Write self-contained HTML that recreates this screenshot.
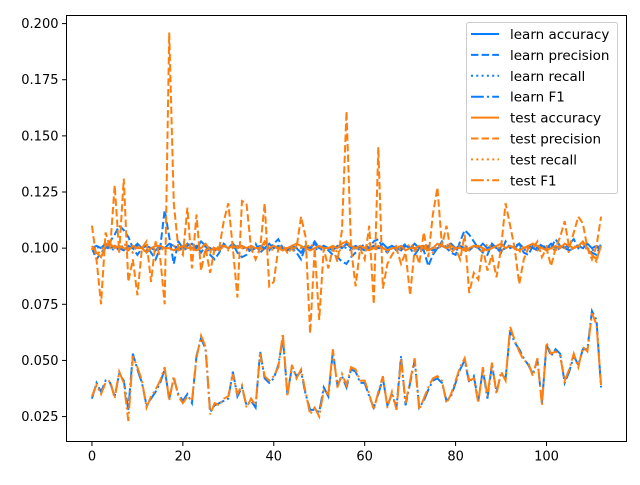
<!DOCTYPE html>
<html><head><meta charset="utf-8"><style>
body{margin:0;background:#fff;font-family:"Liberation Sans","DejaVu Sans",sans-serif}
svg text{font-family:"DejaVu Sans","Liberation Sans",sans-serif;font-size:13px;fill:#000}
</style></head><body>
<svg id="chart" width="640" height="480" xmlns="http://www.w3.org/2000/svg">
<rect x="0" y="0" width="640" height="480" fill="#fff"/>
<g id="plot"></g>
<g id="axes"></g>
<g id="legend"></g>
</svg>
<script>
const xTicks=[0,20,40,60,80,100];
const yTicks=[0.025,0.050,0.075,0.100,0.125,0.150,0.175,0.200];
const yTickLabels=["0.025","0.050","0.075","0.100","0.125","0.150","0.175","0.200"];
const seriesNames=["learn accuracy","learn precision","learn recall","learn F1","test accuracy","test precision","test recall","test F1"];
const learnAccuracy=[0.100,0.101,0.100,0.102,0.100,0.101,0.100,0.099,0.101,0.100,0.102,0.100,0.101,0.100,0.099,0.101,0.100,0.102,0.101,0.100,0.100,0.101,0.102,0.100,0.103,0.101,0.100,0.099,0.100,0.101,0.100,0.102,0.100,0.101,0.100,0.099,0.100,0.101,0.100,0.102,0.100,0.101,0.100,0.099,0.101,0.100,0.098,0.101,0.100,0.102,0.100,0.101,0.100,0.099,0.101,0.100,0.102,0.100,0.101,0.100,0.099,0.100,0.101,0.100,0.102,0.100,0.101,0.100,0.099,0.101,0.100,0.102,0.100,0.101,0.100,0.099,0.100,0.101,0.100,0.102,0.100,0.101,0.100,0.099,0.101,0.100,0.102,0.100,0.101,0.100,0.099,0.100,0.101,0.100,0.102,0.100,0.101,0.100,0.099,0.101,0.100,0.102,0.100,0.101,0.100,0.099,0.100,0.101,0.100,0.102,0.100,0.101,0.100];
const learnPrecision=[0.100,0.095,0.098,0.100,0.103,0.106,0.110,0.108,0.105,0.100,0.097,0.100,0.101,0.098,0.095,0.100,0.117,0.105,0.093,0.103,0.100,0.102,0.100,0.101,0.098,0.101,0.097,0.095,0.098,0.102,0.100,0.102,0.098,0.096,0.097,0.100,0.102,0.098,0.100,0.099,0.102,0.104,0.100,0.099,0.100,0.098,0.095,0.101,0.100,0.103,0.100,0.101,0.099,0.097,0.096,0.094,0.093,0.096,0.098,0.100,0.102,0.100,0.103,0.104,0.100,0.098,0.101,0.099,0.100,0.102,0.100,0.097,0.100,0.099,0.092,0.097,0.100,0.103,0.100,0.098,0.097,0.103,0.108,0.106,0.103,0.100,0.098,0.097,0.102,0.100,0.098,0.103,0.100,0.101,0.102,0.098,0.097,0.101,0.100,0.102,0.099,0.100,0.104,0.101,0.100,0.102,0.104,0.100,0.102,0.100,0.098,0.097,0.102];
const learnRecall=[0.100,0.100,0.101,0.100,0.100,0.099,0.100,0.101,0.100,0.100,0.101,0.100,0.099,0.100,0.101,0.100,0.100,0.101,0.100,0.100,0.099,0.100,0.101,0.100,0.100,0.101,0.100,0.099,0.100,0.101,0.100,0.100,0.101,0.100,0.100,0.099,0.100,0.101,0.100,0.100,0.101,0.100,0.099,0.100,0.101,0.100,0.100,0.101,0.100,0.100,0.099,0.100,0.101,0.100,0.100,0.101,0.100,0.099,0.100,0.101,0.100,0.100,0.101,0.100,0.100,0.099,0.100,0.101,0.100,0.100,0.101,0.100,0.099,0.100,0.101,0.100,0.100,0.101,0.100,0.100,0.099,0.100,0.101,0.100,0.100,0.101,0.100,0.099,0.100,0.101,0.100,0.100,0.101,0.100,0.100,0.099,0.100,0.101,0.100,0.100,0.101,0.100,0.099,0.100,0.101,0.100,0.100,0.101,0.100,0.100,0.099,0.100,0.101];
const learnF1=[0.033,0.040,0.036,0.041,0.040,0.034,0.044,0.041,0.028,0.053,0.046,0.040,0.030,0.033,0.036,0.040,0.046,0.033,0.042,0.035,0.032,0.035,0.031,0.052,0.060,0.055,0.027,0.030,0.031,0.032,0.033,0.045,0.034,0.038,0.030,0.032,0.029,0.054,0.042,0.040,0.042,0.048,0.060,0.035,0.047,0.043,0.045,0.035,0.028,0.028,0.027,0.038,0.034,0.054,0.039,0.043,0.038,0.046,0.045,0.040,0.040,0.034,0.029,0.035,0.042,0.030,0.035,0.029,0.052,0.030,0.040,0.050,0.029,0.032,0.037,0.041,0.042,0.040,0.032,0.034,0.040,0.046,0.050,0.040,0.043,0.032,0.046,0.033,0.048,0.036,0.044,0.042,0.063,0.058,0.055,0.051,0.048,0.044,0.050,0.031,0.057,0.052,0.055,0.053,0.040,0.045,0.052,0.048,0.055,0.055,0.072,0.068,0.038];
const testAccuracy=[0.101,0.098,0.096,0.101,0.102,0.100,0.101,0.100,0.099,0.101,0.100,0.100,0.098,0.100,0.101,0.101,0.100,0.100,0.099,0.100,0.101,0.100,0.100,0.099,0.100,0.102,0.099,0.100,0.099,0.101,0.100,0.101,0.100,0.101,0.100,0.101,0.100,0.100,0.103,0.100,0.101,0.100,0.099,0.100,0.101,0.102,0.101,0.100,0.099,0.100,0.101,0.100,0.100,0.101,0.100,0.102,0.103,0.101,0.100,0.101,0.100,0.099,0.100,0.101,0.100,0.099,0.100,0.100,0.101,0.099,0.100,0.100,0.101,0.100,0.099,0.100,0.102,0.101,0.100,0.101,0.100,0.100,0.099,0.100,0.101,0.101,0.100,0.099,0.100,0.101,0.102,0.100,0.101,0.100,0.099,0.100,0.101,0.102,0.101,0.100,0.099,0.100,0.101,0.100,0.102,0.101,0.100,0.101,0.103,0.100,0.097,0.095,0.101];
const testPrecision=[0.110,0.095,0.075,0.107,0.100,0.128,0.098,0.131,0.085,0.095,0.079,0.100,0.103,0.085,0.103,0.096,0.075,0.196,0.120,0.100,0.097,0.118,0.091,0.115,0.090,0.100,0.089,0.100,0.100,0.112,0.120,0.100,0.078,0.121,0.120,0.100,0.095,0.100,0.120,0.083,0.085,0.100,0.101,0.098,0.100,0.100,0.114,0.105,0.062,0.100,0.068,0.100,0.091,0.100,0.094,0.108,0.161,0.100,0.083,0.100,0.095,0.110,0.075,0.145,0.082,0.093,0.097,0.100,0.093,0.098,0.079,0.100,0.093,0.107,0.096,0.115,0.127,0.101,0.110,0.098,0.100,0.095,0.106,0.080,0.089,0.086,0.100,0.090,0.097,0.087,0.100,0.120,0.110,0.100,0.084,0.095,0.100,0.100,0.103,0.096,0.100,0.092,0.100,0.105,0.112,0.100,0.107,0.114,0.111,0.100,0.095,0.101,0.114];
const testRecall=[0.100,0.097,0.099,0.103,0.100,0.101,0.099,0.102,0.100,0.098,0.101,0.100,0.102,0.099,0.100,0.101,0.098,0.100,0.101,0.099,0.100,0.102,0.100,0.099,0.101,0.100,0.098,0.101,0.100,0.102,0.099,0.100,0.101,0.100,0.099,0.101,0.100,0.098,0.102,0.100,0.099,0.101,0.100,0.100,0.098,0.101,0.100,0.099,0.102,0.100,0.101,0.099,0.100,0.101,0.098,0.100,0.103,0.100,0.099,0.101,0.100,0.102,0.099,0.100,0.101,0.098,0.100,0.101,0.099,0.100,0.102,0.100,0.099,0.101,0.100,0.098,0.101,0.100,0.102,0.099,0.100,0.101,0.100,0.099,0.101,0.100,0.098,0.102,0.100,0.101,0.099,0.100,0.101,0.100,0.098,0.101,0.100,0.102,0.099,0.100,0.101,0.100,0.099,0.101,0.100,0.098,0.101,0.100,0.102,0.099,0.096,0.094,0.102];
const testF1=[0.034,0.039,0.035,0.040,0.041,0.033,0.045,0.040,0.023,0.052,0.047,0.041,0.029,0.034,0.037,0.041,0.047,0.032,0.043,0.034,0.031,0.034,0.032,0.051,0.061,0.056,0.026,0.031,0.030,0.033,0.034,0.044,0.035,0.039,0.029,0.033,0.030,0.053,0.043,0.041,0.043,0.047,0.062,0.034,0.048,0.042,0.046,0.036,0.026,0.029,0.025,0.037,0.035,0.055,0.038,0.044,0.039,0.047,0.046,0.041,0.041,0.035,0.028,0.036,0.043,0.029,0.036,0.028,0.051,0.031,0.041,0.051,0.028,0.033,0.038,0.042,0.043,0.041,0.031,0.035,0.041,0.047,0.051,0.041,0.042,0.031,0.047,0.034,0.049,0.035,0.045,0.041,0.065,0.059,0.054,0.050,0.049,0.043,0.051,0.030,0.058,0.053,0.054,0.052,0.041,0.046,0.053,0.047,0.056,0.054,0.071,0.066,0.039];

const L=66.5,R=626.5,T=15.5,B=441.5;
const xMin=-5.6,xMax=117.6,yMin=0.0139,yMax=0.2036;
const sx=v=>L+(v-xMin)/(xMax-xMin)*(R-L);
const sy=v=>B-(v-yMin)/(yMax-yMin)*(B-T);
const NS="http://www.w3.org/2000/svg";
const mk=(t,a,p)=>{const e=document.createElementNS(NS,t);for(const k in a)e.setAttribute(k,a[k]);p.appendChild(e);return e;};
const plot=document.getElementById('plot'),axes=document.getElementById('axes'),leg=document.getElementById('legend');
const styles=[
 {c:"#0a7cff",d:""},{c:"#0a7cff",d:"7.4,3.2"},{c:"#0a7cff",d:"2,3.3"},{c:"#0a7cff",d:"12.8,3.2,2,3.2"},
 {c:"#ff7f0e",d:""},{c:"#ff7f0e",d:"7.4,3.2"},{c:"#ff7f0e",d:"2,3.3"},{c:"#ff7f0e",d:"12.8,3.2,2,3.2"}];
const allSeries=[learnAccuracy,learnPrecision,learnRecall,learnF1,testAccuracy,testPrecision,testRecall,testF1];
const keys=["learn-accuracy","learn-precision","learn-recall","learn-f1","test-accuracy","test-precision","test-recall","test-f1"];
allSeries.forEach((s,i)=>{
 const pts=s.map((v,j)=>sx(j).toFixed(2)+","+sy(v).toFixed(2)).join(" ");
 const pl=mk('polyline',{points:pts,fill:"none",stroke:styles[i].c,"stroke-width":2,"stroke-dasharray":styles[i].d},plot);
 
 
});
const fr=mk('rect',{x:L,y:T,width:R-L,height:B-T,fill:"none",stroke:"#000","stroke-width":1},axes);


xTicks.forEach(t=>{
 const x=sx(t);
 mk('line',{x1:x,x2:x,y1:B,y2:B+4.5,stroke:"#000","stroke-width":1},axes);
 const tx=mk('text',{x:x,y:B+19,"text-anchor":"middle"},axes);tx.textContent=t;
 
 
});
yTicks.forEach((t,i)=>{
 const y=sy(t);
 mk('line',{x1:L-4.5,x2:L,y1:y,y2:y,stroke:"#000","stroke-width":1},axes);
 const tx=mk('text',{x:L-8,y:y+4.5,"text-anchor":"end"},axes);tx.textContent=yTickLabels[i];
 
 
});
const lb=mk('rect',{x:466.5,y:22.5,width:151,height:171,rx:2,fill:"#fff","fill-opacity":0.8,stroke:"#ccc","stroke-width":1},leg);


seriesNames.forEach((n,i)=>{
 const y=34+i*20.9;
 const g=mk('g',{},leg);
 
 
 mk('line',{x1:471,x2:499,y1:y,y2:y,stroke:styles[i].c,"stroke-width":2,"stroke-dasharray":styles[i].d},g);
 const t=mk('text',{x:510,y:y+5},g);t.textContent=n;
 t.style.fontSize="13.5px";
});
</script>
</body></html>
